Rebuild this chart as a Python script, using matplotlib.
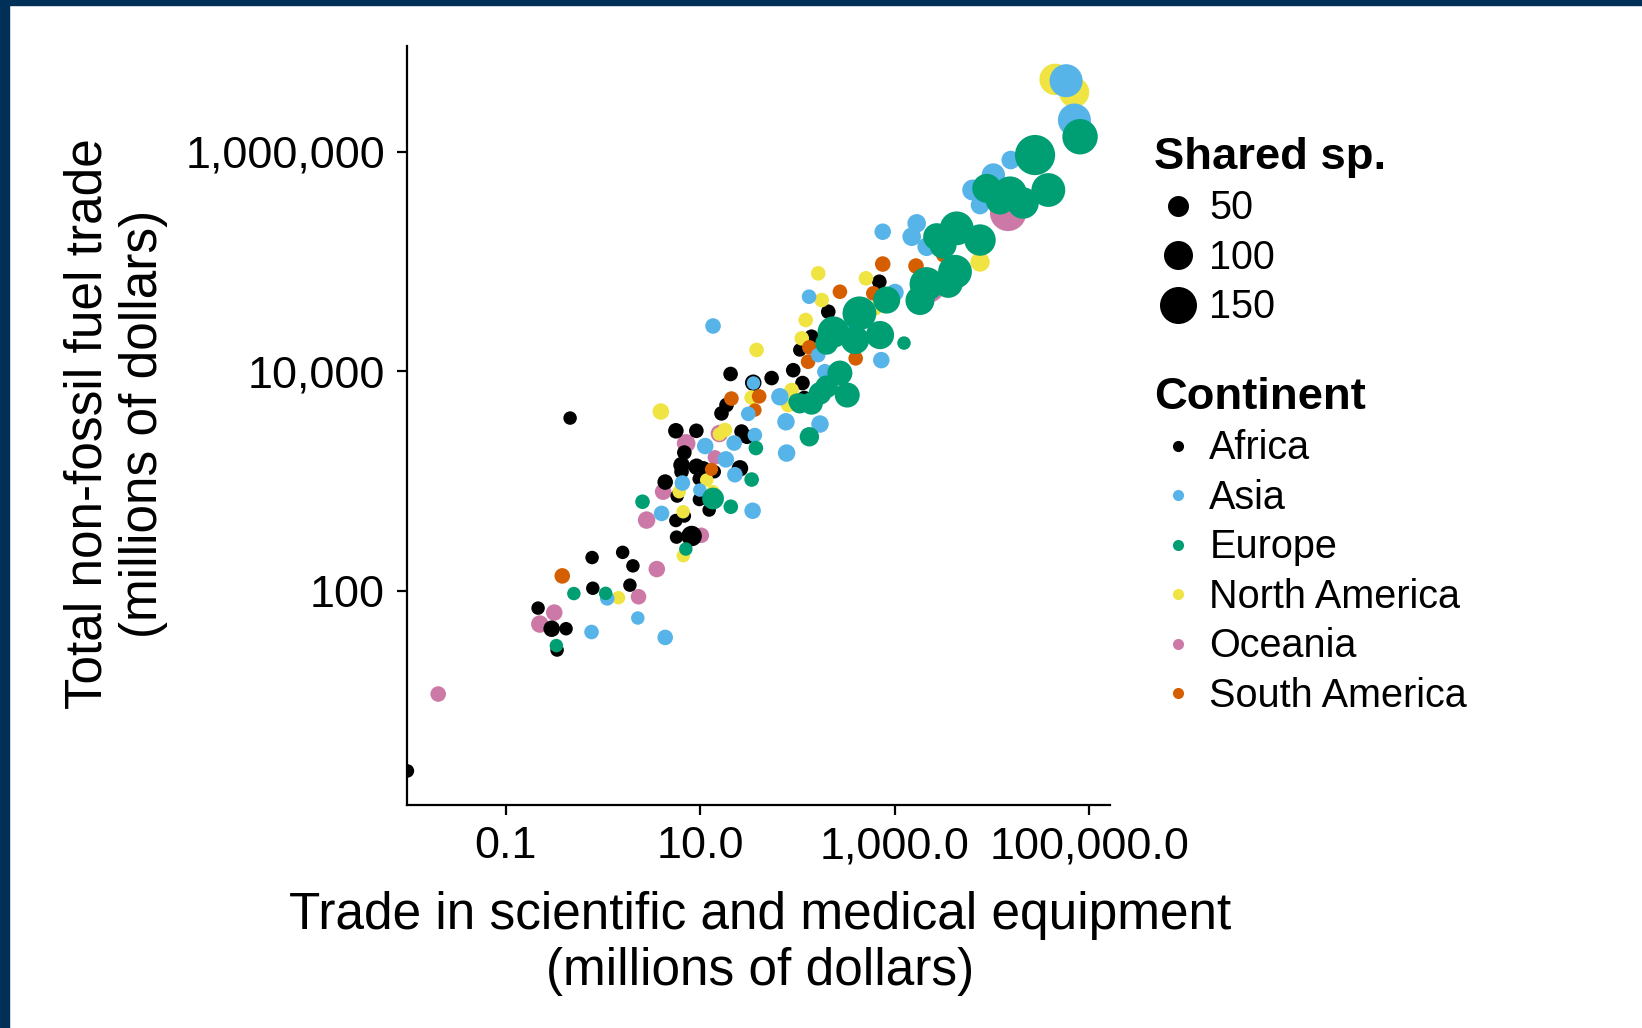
import numpy as np
import matplotlib.pyplot as plt
from matplotlib.lines import Line2D
from matplotlib.patches import Rectangle
from matplotlib.ticker import FixedLocator, FixedFormatter, NullLocator

plt.rcParams['font.family'] = ['Liberation Sans', 'DejaVu Sans']

# ---- data (millions of dollars, shared species) ----
africa_x = [0.0098, 0.461, 0.216, 0.298, 0.419, 0.339, 0.776, 1.60, 2.04, 0.789, 1.90, 5.73, 8.18,
            20.6, 54.4, 35.2, 18.7, 16.6, 5.64, 9.16, 26.7, 30.3, 6.89, 6.45, 9.20, 10.8, 6.45, 14.0,
            25.7, 4.38, 9.79, 5.81, 9.84, 12.4, 6.89, 5.64, 697, 208, 140, 106, 90.8, 113, 118]
africa_y = [2.27, 3735, 69.2, 44.9, 44.9, 28.7, 200, 223, 168, 105, 112, 307, 314,
            9419, 8650, 7840, 4910, 4120, 2860, 2860, 2815, 2523, 1811, 1393, 1345, 1300, 1211, 1211,
            1300, 975, 1045, 727, 676, 542, 478, 435, 65300, 34800, 20600, 15600, 10200, 7790, 5690]
africa_sp = [3, 3, 3, 22, 3, 3, 3, 3, 3, 3, 3, 3, 47, 10, 10, 22, 10, 10, 16, 10, 10, 10, 10, 22,
             22, 10, 10, 3, 22, 16, 3, 3, 3, 3, 3, 3, 10, 10, 10, 3, 10, 10, 10]

asia_x = [0.766, 1.11, 2.29, 4.38, 13.6, 35.4, 31.3, 36.6, 11.3, 22.4, 18.4, 22.8, 6.58, 9.95, 4.02,
          34.7, 66.2, 76.4, 77.6, 132, 1009, 313, 618, 164, 730, 192, 171, 755, 1687, 1500, 2138,
          6360, 7560, 10360, 15640, 58000, 70600]
asia_y = [41.9, 84.9, 56.2, 37.4, 25800, 7790, 4080, 2615, 2075, 2210, 1570, 1137, 955, 824, 505,
          534, 5840, 3455, 1792, 47700, 52100, 24200, 20300, 14000, 12600, 9880, 3295, 186600,
          222300, 168000, 136100, 447700, 326600, 613300, 840000, 4440000, 1945000]
asia_sp = [10, 10, 3, 16, 16, 3, 10, 10, 22, 16, 22, 16, 16, 3, 16, 22, 28, 28, 28, 10, 28, 16, 16,
           10, 22, 16, 28, 22, 35, 35, 35, 50, 35, 65, 35, 125, 125]

europe_x = [0.333, 0.504, 1.07, 7.14, 2.56, 13.6, 20.7, 33.9, 37.5, 98.4, 133, 106, 140, 171, 200,
            274, 326, 234, 392, 200, 435, 708, 829, 1250, 2128, 1824, 3566, 4180, 4355, 2710, 7560,
            8870, 15380, 38100, 27800, 80700, 20940, 12140, 3148]
europe_y = [31.5, 93.9, 94.3, 239, 645, 690, 581, 1028, 1991, 5260, 2523, 5085, 5085, 6280, 7210,
            9610, 6055, 22700, 19200, 17900, 33650, 21330, 44460, 18030, 62230, 44030, 63100, 80540,
            200400, 168000, 156700, 463600, 417800, 447700, 933000, 1370000, 340600, 363000, 141000]
europe_sp = [3, 3, 3, 3, 10, 55, 10, 10, 10, 22, 40, 45, 60, 60, 60, 75, 75, 115, 95, 60, 130, 95,
             88, 3, 130, 100, 100, 130, 130, 88, 115, 100, 130, 130, 170, 140, 115, 100, 88]

namerica_x = [1.45, 6.73, 3.95, 38.1, 33.9, 18.0, 15.8, 6.10, 11.7, 13.6, 6.69, 80.5, 164, 508, 178,
              122, 111, 87.4, 629, 7560, 44700, 70100]
namerica_y = [86.0, 208, 4285, 15600, 5745, 2905, 2670, 796, 1017, 796, 523, 4910, 77900, 70150,
              44460, 29240, 19900, 6730, 37350, 98800, 4570000, 3480000]
namerica_sp = [3, 3, 22, 10, 10, 10, 3, 3, 3, 3, 3, 10, 10, 10, 10, 10, 10, 10, 10, 40, 115, 108]

oceania_x = [0.0203, 0.225, 0.317, 2.33, 3.59, 2.82, 4.17, 10.3, 7.19, 15.8, 14.2, 14690, 2208]
oceania_y = [11.4, 49.5, 63.0, 87.8, 157, 439, 796, 319, 2197, 2700, 1637, 276300, 59700]
oceania_sp = [16, 28, 22, 16, 22, 28, 22, 16, 35, 28, 10, 145, 130]

samerica_x = [0.383, 21.0, 40.5, 36.6, 13.1, 274, 604, 755, 1660, 3170, 133, 129, 398]
samerica_y = [136, 5625, 5890, 4420, 1273, 52950, 51200, 94700, 90800, 114300, 16480, 12190, 13080]
samerica_sp = [16, 10, 10, 3, 1, 10, 10, 16, 16, 10, 10, 10, 10]

continents = ["Africa", "Asia", "Europe", "North America", "Oceania", "South America"]
colors = ["#000000", "#56B4E9", "#009E73", "#F0E442", "#CC79A7", "#D55E00"]
size_breaks = [50, 100, 150]

x_ticks = [0.1, 10, 1000, 100000]
x_labels = ["0.1", "10.0", "1,000.0", "100,000.0"]
y_ticks = [100, 10000, 1000000]
y_labels = ["100", "10,000", "1,000,000"]


def diam_pt(sp):
    # marker diameter (points) for a number of shared species
    return (13.0 + 0.16 * np.asarray(sp, dtype=float)) * 0.72


data = {
    "Africa": (africa_x, africa_y, africa_sp),
    "Asia": (asia_x, asia_y, asia_sp),
    "Europe": (europe_x, europe_y, europe_sp),
    "North America": (namerica_x, namerica_y, namerica_sp),
    "Oceania": (oceania_x, oceania_y, oceania_sp),
    "South America": (samerica_x, samerica_y, samerica_sp),
}
col = dict(zip(continents, colors))
draw_order = ["Oceania", "Africa", "North America", "South America", "Asia", "Europe"]

fig = plt.figure(figsize=(16.42, 10.28), dpi=100)
ax = fig.add_axes([407 / 1642, 1 - 805 / 1028, (1110 - 407) / 1642, (805 - 46) / 1028])

for name in draw_order:
    xs, ys, sp = data[name]
    ax.scatter(xs, ys, s=diam_pt(sp) ** 2, color=col[name], linewidths=0, zorder=3)

ax.set_xscale("log")
ax.set_yscale("log")
ax.set_xlim(0.0097, 164000)
ax.set_ylim(1.11, 9.2e6)
ax.xaxis.set_major_locator(FixedLocator(x_ticks))
ax.xaxis.set_major_formatter(FixedFormatter(x_labels))
ax.yaxis.set_major_locator(FixedLocator(y_ticks))
ax.yaxis.set_major_formatter(FixedFormatter(y_labels))
ax.xaxis.set_minor_locator(NullLocator())
ax.yaxis.set_minor_locator(NullLocator())

for s in ["top", "right"]:
    ax.spines[s].set_visible(False)
for s in ["left", "bottom"]:
    ax.spines[s].set_linewidth(1.6)
ax.tick_params(axis="both", labelsize=32.4, length=7.2, width=1.6, color="black")
ax.tick_params(axis="y", pad=8.6)
ax.tick_params(axis="x", pad=8)

# axis titles
fig.text(760 / 1642, 1 - 916 / 1028, "Trade in scientific and medical equipment",
         ha="center", va="center", fontsize=37)
fig.text(760 / 1642, 1 - 971 / 1028, "(millions of dollars)",
         ha="center", va="center", fontsize=37)
fig.text(88 / 1642, 1 - 424 / 1028, "Total non-fossil fuel trade",
         ha="center", va="center", fontsize=37, rotation=90)
fig.text(144 / 1642, 1 - 424 / 1028, "(millions of dollars)",
         ha="center", va="center", fontsize=37, rotation=90)

# legends
size_handles = [Line2D([], [], marker="o", linestyle="", color="black", markeredgewidth=0,
                       markersize=float(diam_pt(b))) for b in size_breaks]
leg1 = fig.legend(size_handles, [str(b) for b in size_breaks], title="Shared sp.",
                  loc="upper left", bbox_to_anchor=(1154 / 1642, 1 - 137 / 1028),
                  frameon=False, fontsize=28.5, title_fontproperties={"weight": "bold", "size": 32.7},
                  borderpad=0, borderaxespad=0, handlelength=1.21, handletextpad=0.19,
                  labelspacing=0.29, alignment="left")

col_handles = [Line2D([], [], marker="o", linestyle="", color=c, markeredgewidth=0, markersize=8)
               for c in colors]
leg2 = fig.legend(col_handles, continents, title="Continent",
                  loc="upper left", bbox_to_anchor=(1154 / 1642, 1 - 377 / 1028),
                  frameon=False, fontsize=28.5, title_fontproperties={"weight": "bold", "size": 32.7},
                  borderpad=0, borderaxespad=0, handlelength=1.21, handletextpad=0.19,
                  labelspacing=0.29, alignment="left")

# dark frame at the top and left edge
fig.patches.append(Rectangle((0, 1 - 5 / 1028), 1, 5 / 1028, transform=fig.transFigure,
                             color="#003057", zorder=10))
fig.patches.append(Rectangle((0, 0), 9 / 1642, 1, transform=fig.transFigure,
                             color="#003057", zorder=10))

fig.savefig("out.png", dpi=100)
